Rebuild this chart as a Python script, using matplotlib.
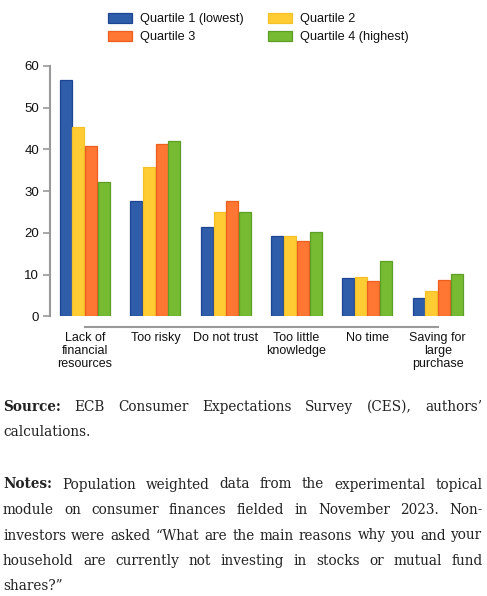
import matplotlib.pyplot as plt
import numpy as np
from matplotlib.patches import Patch

categories = ["Lack of\nfinancial\nresources", "Too risky", "Do not trust",
              "Too little\nknowledge", "No time", "Saving for\nlarge\npurchase"]
series = ["Quartile 1 (lowest)", "Quartile 2", "Quartile 3", "Quartile 4 (highest)"]
q1 = [56.6, 27.6, 21.4, 19.3, 9.3, 4.4]
q2 = [45.4, 35.8, 25.0, 19.3, 9.5, 6.1]
q3 = [40.8, 41.2, 27.6, 18.1, 8.5, 8.7]
q4 = [32.1, 42.0, 25.0, 20.2, 13.3, 10.1]
values = [q1, q2, q3, q4]
yticks = [0, 10, 20, 30, 40, 50, 60]

fills = ["#2f5daa", "#ffcc33", "#ff7733", "#77bb33"]
edges = ["#1e4494", "#f5c12a", "#ec5f1e", "#5c9e26"]

W, H = 487, 596
fig = plt.figure(figsize=(W / 100, H / 100), dpi=100)
plt.rcParams['font.family'] = ['Liberation Sans', 'DejaVu Sans']

# axes in pixel terms
left, right, top, bot = 49.5, 473.0, 66.0, 316.3
ax = fig.add_axes([left / W, 1 - bot / H, (right - left) / W, (bot - top) / H])

x = np.arange(len(categories))
step = 0.18
bw = 0.17
for i, vals in enumerate(values):
    ax.bar(x + (i - 1.5) * step, vals, bw, color=fills[i], edgecolor=edges[i],
           linewidth=0.9, label=series[i])

ax.set_xlim(-0.5, len(categories) - 0.5)
ax.set_ylim(0, 60)
ax.set_yticks(yticks)
ax.tick_params(axis='y', length=5, width=1.2, color='#999999', labelsize=9.5, pad=2.5,
               labelcolor='#111111')
ax.set_xticks(x)
ax.set_xticklabels(categories, fontsize=9, linespacing=1.12, va='top', color='#111111')
ax.tick_params(axis='x', length=0, pad=11)
for s in ['top', 'right', 'bottom']:
    ax.spines[s].set_visible(False)
ax.spines['left'].set_color('#999999')
ax.spines['left'].set_linewidth(1.5)
# detached baseline under the categories
ax.plot([0, len(categories) - 1], [-2.5, -2.5], color='#999999', lw=1.5, clip_on=False)

handles = [Patch(facecolor=fills[i], edgecolor=edges[i], linewidth=0.9) for i in range(4)]
order = [0, 2, 1, 3]
fig.legend([handles[i] for i in order], [series[i] for i in order], ncol=2,
           loc='upper left', bbox_to_anchor=(103 / W, 1 - 8 / H), frameon=False,
           fontsize=9.2, handlelength=1.9, handleheight=0.78, handletextpad=0.6,
           columnspacing=1.9, labelspacing=0.45, borderaxespad=0, labelcolor='#111111')

# justified footnote text
serif = ['DejaVu Serif']
fs = 9.8
lines = [
    ("Source:", "ECB Consumer Expectations Survey (CES), authors\u2019", True, 411),
    (None, "calculations.", False, 436),
    ("Notes:", "Population weighted data from the experimental topical", True, 488.5),
    (None, "module on consumer finances fielded in November 2023. Non-", True, 514),
    (None, "investors were asked \u201cWhat are the main reasons why you and your", True, 539.5),
    (None, "household are currently not investing in stocks or mutual fund", True, 565),
    (None, "shares?\u201d", False, 590.5),
]
x0, x1 = 3.0, 482.3
r = fig.canvas.get_renderer()
for head, body, justify, yb in lines:
    words = body.split()
    items = []
    if head:
        items.append(fig.text(0, 0, head, fontsize=fs, family=serif, weight='bold',
                              va='baseline', color='#222222'))
    for w in words:
        items.append(fig.text(0, 0, w, fontsize=fs, family=serif, va='baseline',
                              color='#222222'))
    widths = [t.get_window_extent(r).width for t in items]
    if justify:
        gap = (x1 - x0 - sum(widths)) / (len(items) - 1)
    else:
        gap = fs * 100 / 72 * 0.3
    pos = x0
    for t, wd in zip(items, widths):
        t.set_position((pos / W, 1 - yb / H))
        pos += wd + gap

fig.savefig("out.png", dpi=100)
